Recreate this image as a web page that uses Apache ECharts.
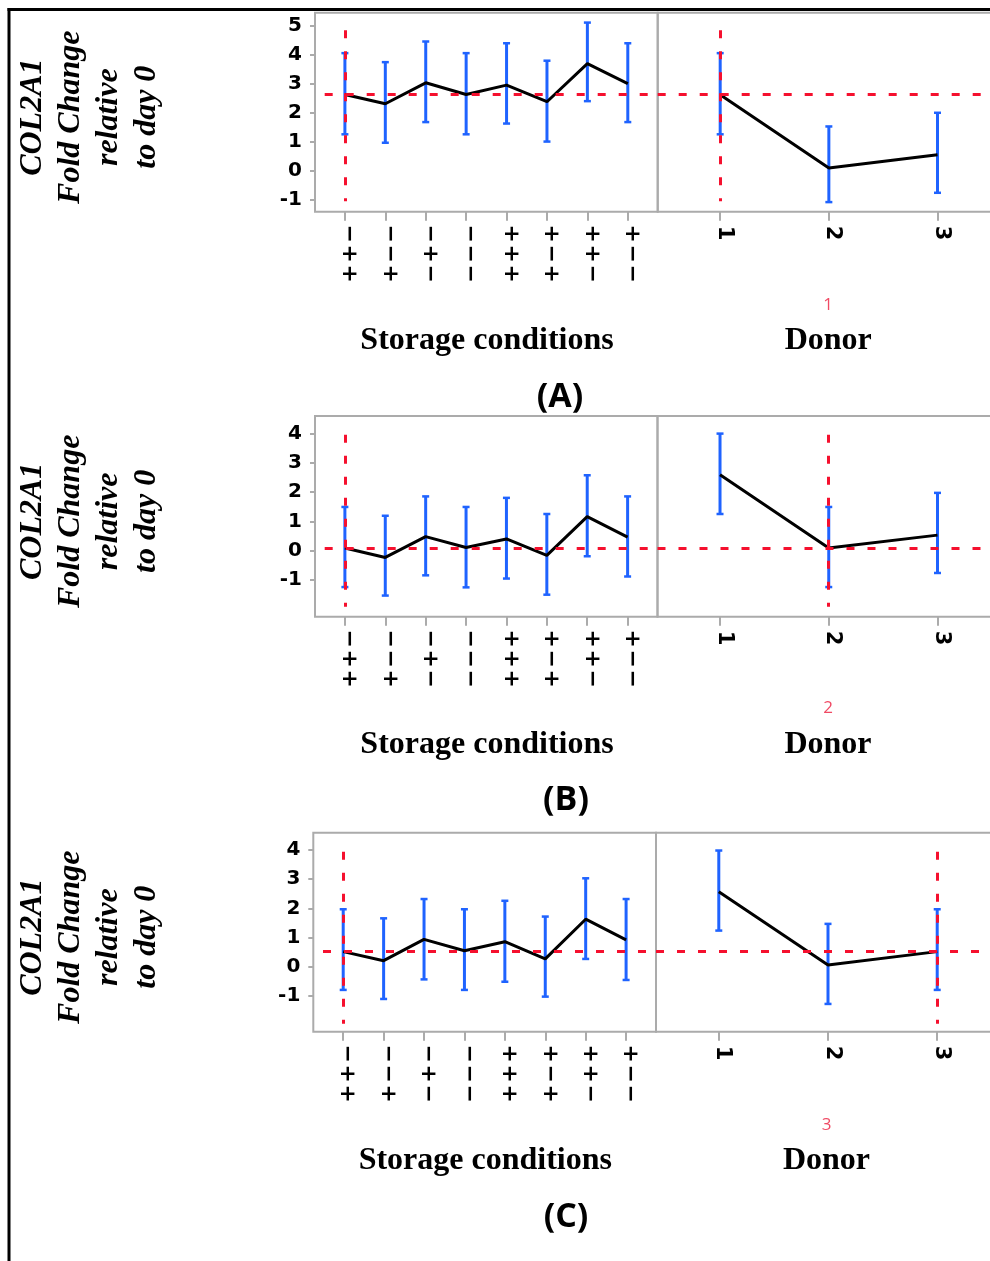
<!DOCTYPE html>
<html>
<head>
<meta charset="utf-8">
<script src="https://cdn.jsdelivr.net/npm/echarts@6/dist/echarts.min.js"></script>
<style>
  html, body { margin: 0; padding: 0; background: #fff; }
  #chart { width: 990px; height: 1261px; }
</style>
</head>
<body>
<div id="chart"></div>
<script>
// ---------------- DATA ----------------
const storageCategories = ['−++', '−−+', '−+−', '−−−', '+++', '+−+', '++−', '+−−'];
const donorCategories = ['1', '2', '3'];
const panelLabels = ['(A)', '(B)', '(C)'];
const selectedDonor = ['1', '2', '3'];
const selectedStorage = ['−++', '−++', '−++'];

// Panel A
const storageMeanA = [2.63, 2.31, 3.03, 2.63, 2.95, 2.38, 3.69, 3.00];
const storageLowA  = [1.26, 0.97, 1.68, 1.26, 1.63, 1.01, 2.40, 1.68];
const storageHighA = [4.05, 3.74, 4.45, 4.05, 4.39, 3.79, 5.10, 4.39];
const donorMeanA = [2.62, 0.10, 0.56];
const donorLowA  = [1.26, -1.07, -0.75];
const donorHighA = [4.05, 1.53, 2.00];

// Panel B
const storageMeanB = [0.09, -0.23, 0.48, 0.11, 0.40, -0.16, 1.16, 0.46];
const storageLowB  = [-1.24, -1.53, -0.84, -1.25, -0.95, -1.50, -0.19, -0.88];
const storageHighB = [1.49, 1.19, 1.85, 1.49, 1.80, 1.25, 2.57, 1.85];
const donorMeanB = [2.59, 0.09, 0.53];
const donorLowB  = [1.25, -1.24, -0.76];
const donorHighB = [3.99, 1.49, 1.97];

// Panel C
const storageMeanC = [0.52, 0.21, 0.94, 0.55, 0.86, 0.27, 1.63, 0.92];
const storageLowC  = [-0.79, -1.10, -0.43, -0.79, -0.51, -1.02, 0.27, -0.45];
const storageHighC = [1.97, 1.66, 2.32, 1.97, 2.26, 1.72, 3.03, 2.32];
const donorMeanC = [2.57, 0.06, 0.52];
const donorLowC  = [1.24, -1.27, -0.79];
const donorHighC = [3.98, 1.47, 1.97];

// Reference (current value) lines
const referenceLevel = [2.62, 0.08, 0.52];
const crosshairTop = [4.84, 3.95, 3.94];
const crosshairBottom = [-1.04, -1.91, -1.95];

// Y axis ranges and tick labels
const yAxisMin = [-1.40, -2.25, -2.22];
const yAxisMax = [5.44, 4.59, 4.59];
const yTicksA = [-1, 0, 1, 2, 3, 4, 5];
const yTicksB = [-1, 0, 1, 2, 3, 4];
const yTicksC = [-1, 0, 1, 2, 3, 4];

// ---------------- STYLE / LAYOUT ----------------
const RED = '#f5102e';
const BLUE = '#1f63ff';
const GRAY = '#ababab';
const AXIS_FONT = '"DejaVu Sans", "Open Sans", sans-serif';
const SERIF = '"Liberation Serif", "DejaVu Serif", serif';

const panels = [
  { top: 12.7, height: 199, left: 315, divider: 657.7, labelX: 560,
    storage: [storageMeanA, storageLowA, storageHighA], donor: [donorMeanA, donorLowA, donorHighA], yTicks: yTicksA },
  { top: 416, height: 200.7, left: 315, divider: 657.5, labelX: 566,
    storage: [storageMeanB, storageLowB, storageHighB], donor: [donorMeanB, donorLowB, donorHighB], yTicks: yTicksB },
  { top: 832.7, height: 199, left: 313.3, divider: 656, labelX: 566,
    storage: [storageMeanC, storageLowC, storageHighC], donor: [donorMeanC, donorLowC, donorHighC], yTicks: yTicksC }
];

// axis extents in category-index units (index 0 = first category)
const storageX = [-0.74, 7.74];
const donorX = [-0.575, 2.575];

function errorBarRender(params, api) {
  const x = api.value(0);
  const lo = api.coord([x, api.value(1)]);
  const hi = api.coord([x, api.value(2)]);
  const cap = 3.5;
  return {
    type: 'group',
    children: [
      { type: 'line', shape: { x1: lo[0], y1: lo[1], x2: hi[0], y2: hi[1] },
        style: { stroke: BLUE, lineWidth: 3 } },
      { type: 'line', shape: { x1: hi[0] - cap, y1: hi[1], x2: hi[0] + cap, y2: hi[1] },
        style: { stroke: BLUE, lineWidth: 2.5 } },
      { type: 'line', shape: { x1: lo[0] - cap, y1: lo[1], x2: lo[0] + cap, y2: lo[1] },
        style: { stroke: BLUE, lineWidth: 2.5 } }
    ]
  };
}

const grids = [], xAxes = [], yAxes = [], series = [], graphics = [];

panels.forEach((p, pi) => {
  const sets = [
    { cats: storageCategories, vals: p.storage, range: storageX, left: p.left, right: 990 - p.divider,
      sel: storageCategories.indexOf(selectedStorage[pi]), refStart: -0.5, storage: true },
    { cats: donorCategories, vals: p.donor, range: donorX, left: p.divider, right: -10,
      sel: donorCategories.indexOf(selectedDonor[pi]), refStart: donorX[0], storage: false }
  ];
  sets.forEach((s, si) => {
    const gi = grids.length;
    grids.push({
      left: s.left, right: s.right, top: p.top, height: p.height,
      show: true, borderColor: GRAY, borderWidth: 2, backgroundColor: 'transparent',
      containLabel: false, outerBoundsMode: 'none'
    });
    const idx = s.cats.map((_, i) => i);
    xAxes.push({
      type: 'value', gridIndex: gi, min: s.range[0], max: s.range[1],
      splitLine: { show: false },
      axisLine: { show: false, onZero: false },
      axisTick: { show: true, customValues: idx, length: 9, inside: false,
                  lineStyle: { color: GRAY, width: 2 } },
      axisLabel: {
        show: true, customValues: idx, rotate: -90,
        margin: s.storage ? 12 : 14,
        padding: [0, 0, 8, 0],
        color: '#000', fontWeight: 'bold', fontSize: 21, fontFamily: AXIS_FONT,
        formatter: s.storage
          ? (v) => s.cats[Math.round(v)].split('').map(c => '{c|' + c + '}').join('')
          : (v) => s.cats[Math.round(v)],
        rich: { c: { width: 20, align: 'center', fontSize: 22, fontWeight: 'bold',
                     fontFamily: AXIS_FONT, color: '#000' } }
      }
    });
    yAxes.push({
      type: 'value', gridIndex: gi, min: yAxisMin[pi], max: yAxisMax[pi],
      splitLine: { show: false },
      axisLine: { show: false, onZero: false },
      axisTick: { show: si === 0, customValues: p.yTicks, length: 5,
                  lineStyle: { color: GRAY, width: 2 } },
      axisLabel: { show: si === 0, customValues: p.yTicks, margin: 13,
                   color: '#000', fontWeight: 'bold', fontSize: 20, fontFamily: AXIS_FONT }
    });
    const [mean, low, high] = s.vals;
    series.push({
      type: 'line', xAxisIndex: gi, yAxisIndex: gi, data: [], silent: true, z: 1,
      markLine: {
        silent: true, symbol: 'none', animation: false, label: { show: false },
        lineStyle: { color: RED, width: 3, type: [8, 13] },
        data: [
          [{ coord: [s.refStart, referenceLevel[pi]] }, { coord: [s.range[1], referenceLevel[pi]] }],
          [{ coord: [s.sel, crosshairTop[pi]] }, { coord: [s.sel, crosshairBottom[pi]] }]
        ]
      }
    });
    series.push({
      type: 'custom', xAxisIndex: gi, yAxisIndex: gi, z: 2,
      renderItem: errorBarRender,
      encode: { x: 0, y: [1, 2] },
      data: mean.map((_, i) => [i, low[i], high[i]])
    });
    series.push({
      type: 'line', xAxisIndex: gi, yAxisIndex: gi, z: 3,
      data: mean.map((m, i) => [i, m]),
      symbol: 'none', lineStyle: { color: '#000', width: 3 }
    });
  });

  graphics.push({
    type: 'text', x: 89.5, y: p.top + p.height / 2 + 5, rotation: Math.PI / 2,
    style: { text: 'COL2A1\nFold Change\nrelative\nto day 0', fontFamily: SERIF,
             fontWeight: 'bold', fontStyle: 'italic', fontSize: 32, lineHeight: 38,
             align: 'center', verticalAlign: 'middle', fill: '#000' }
  });
  graphics.push({
    type: 'text', x: p.left + 172, y: p.top + 328.3,
    style: { text: 'Storage conditions', fontFamily: SERIF, fontWeight: 'bold', fontSize: 32,
             align: 'center', verticalAlign: 'middle', fill: '#000' }
  });
  graphics.push({
    type: 'text', x: p.divider + 170.5, y: p.top + 328.3,
    style: { text: 'Donor', fontFamily: SERIF, fontWeight: 'bold', fontSize: 32,
             align: 'center', verticalAlign: 'middle', fill: '#000' }
  });
  graphics.push({
    type: 'text', x: p.divider + 170.5, y: p.top + 292.3,
    style: { text: selectedDonor[pi], fontFamily: '"Open Sans", sans-serif', fontSize: 17,
             align: 'center', verticalAlign: 'middle', fill: '#f04a64' }
  });
  graphics.push({
    type: 'text', x: p.labelX, y: p.top + 384.5,
    style: { text: panelLabels[pi], fontFamily: '"Open Sans", sans-serif', fontWeight: 'bold', fontSize: 34,
             align: 'center', verticalAlign: 'middle', fill: '#000' }
  });
});

graphics.push({ type: 'line', shape: { x1: 7.5, y1: 9.5, x2: 990, y2: 9.5 },
                style: { stroke: '#000', lineWidth: 3 } });
graphics.push({ type: 'line', shape: { x1: 9, y1: 8, x2: 9, y2: 1261 },
                style: { stroke: '#000', lineWidth: 3 } });

const chart = echarts.init(document.getElementById('chart'), null, { renderer: 'canvas' });
chart.setOption({
  animation: false,
  backgroundColor: '#fff',
  grid: grids,
  xAxis: xAxes,
  yAxis: yAxes,
  series: series,
  graphic: graphics
});
</script>
</body>
</html>
